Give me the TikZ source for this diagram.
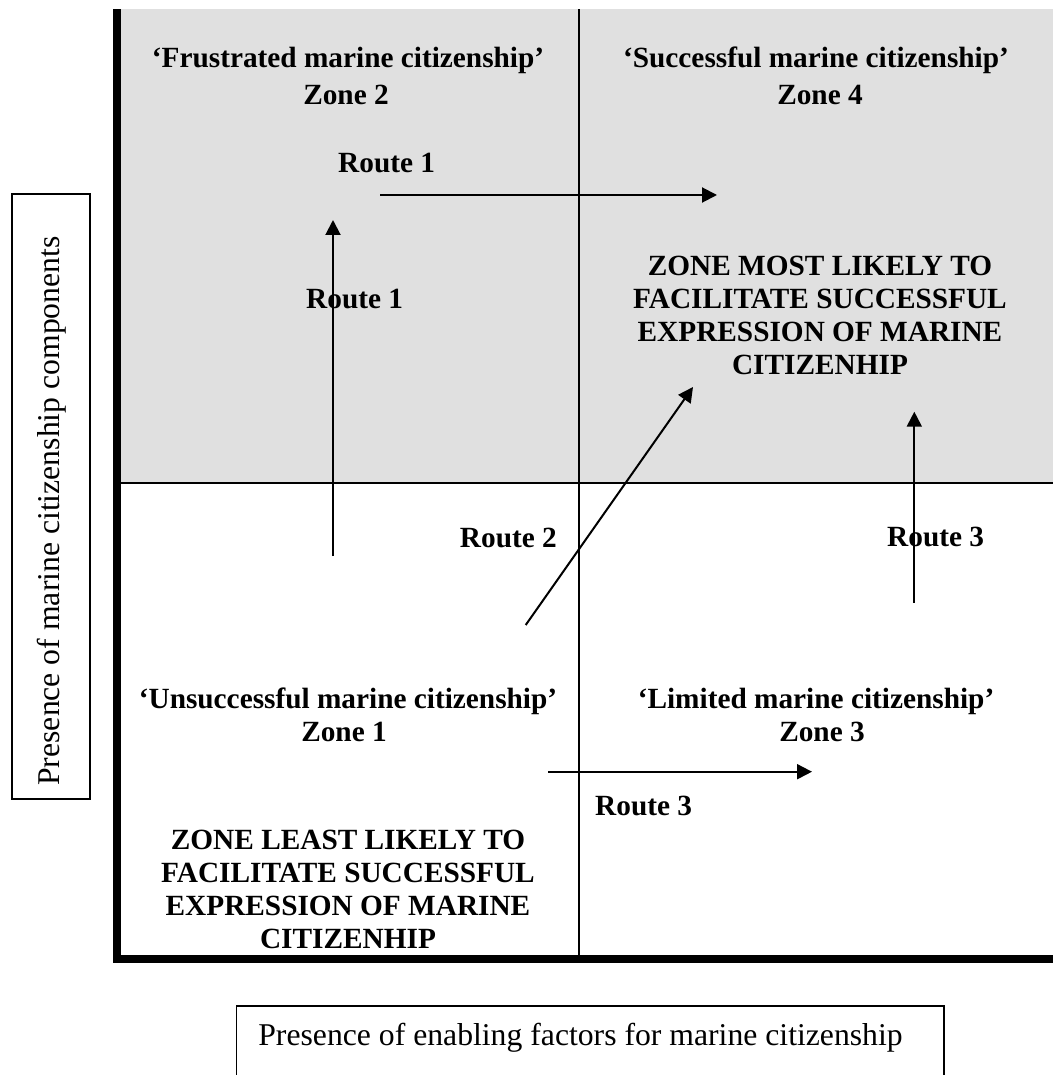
\documentclass[tikz,border=0pt]{standalone}
\usepackage{fontspec}
\setmainfont{Liberation Serif}
\usetikzlibrary{arrows.meta}
\definecolor{zonegrey}{RGB}{224,224,224}
\tikzset{
  bt/.style={font=\fontsize{29.3}{33}\selectfont\bfseries, inner sep=0pt},
  lbl/.style={font=\fontsize{31.7}{36}\selectfont, inner sep=0pt},
  route/.style={line width=2pt, -{Triangle[length=15pt,width=15pt]}},
  divider/.style={line width=2pt},
  frameline/.style={line width=8pt, line join=miter},
  labelbox/.style={draw, line width=1.6pt, inner sep=0pt}
}
\begin{document}
\begin{tikzpicture}[x=1pt,y=-1pt]
\useasboundingbox (0,0) rectangle (1053,1075);
% shaded upper half
\fill[zonegrey] (120.7,9.5) rectangle (1053,482.7);
% dividers
\draw[divider] (579,9.5) -- (579,955);
\draw[divider] (120.7,482.7) -- (1053,482.7);
% axes frame
\draw[frameline] (116.7,9.5) -- (116.7,959) -- (1053,959);

% axis label boxes
\node[labelbox, minimum width=78pt, minimum height=605pt] (ybox) at (51,496.5) {};
\node[lbl, rotate=90] (ylab) at (52,511) {Presence of marine citizenship components};
\draw[line width=1.6pt] (236.5,1085) -- (236.5,1005.7) -- (944,1005.7) -- (944,1085);
\node[lbl, anchor=base] (xlab) at (580.5,1045) {Presence of enabling factors for marine citizenship};

% zone titles
\node[bt, anchor=base] (z2t) at (348,68) {‘Frustrated marine citizenship’};
\node[bt, anchor=base] (z2) at (346,105) {Zone 2};
\node[bt, anchor=base] (z4t) at (816,68) {‘Successful marine citizenship’};
\node[bt, anchor=base] (z4) at (820,105) {Zone 4};
\node[bt, anchor=base] (z1t) at (348,708) {‘Unsuccessful marine citizenship’};
\node[bt, anchor=base] (z1) at (344,741) {Zone 1};
\node[bt, anchor=base] (z3t) at (816,708) {‘Limited marine citizenship’};
\node[bt, anchor=base] (z3) at (822,741) {Zone 3};

% zone descriptions
\node[bt] (most) at (820,318) {\begin{tabular}{@{}c@{}}ZONE MOST LIKELY TO\\FACILITATE SUCCESSFUL\\EXPRESSION OF MARINE\\CITIZENHIP\end{tabular}};
\node[bt] (least) at (348,892) {\begin{tabular}{@{}c@{}}ZONE LEAST LIKELY TO\\FACILITATE SUCCESSFUL\\EXPRESSION OF MARINE\\CITIZENHIP\end{tabular}};

% route labels
\node[bt, anchor=base west] (r1a) at (338,173) {Route 1};
\node[bt, anchor=base west] (r1b) at (306,308) {Route 1};
\node[bt, anchor=base east] (r2) at (557,547) {Route 2};
\node[bt, anchor=base west] (r3a) at (887,546) {Route 3};
\node[bt, anchor=base west] (r3b) at (595,815) {Route 3};

% route arrows
\coordinate (r1hs) at (380,195);
\coordinate (r1he) at (717,195);
\coordinate (r1vs) at (333,556);
\coordinate (r1ve) at (333,220);
\coordinate (r2s) at (525.7,625);
\coordinate (r2e) at (693,387);
\coordinate (r3vs) at (914.3,602.7);
\coordinate (r3ve) at (914.3,411.7);
\coordinate (r3hs) at (548.3,771.7);
\coordinate (r3he) at (812,771.7);
\draw[route] (r1hs) -- (r1he);
\draw[route] (r1vs) -- (r1ve);
\draw[route] (r2s) -- (r2e);
\draw[route] (r3vs) -- (r3ve);
\draw[route] (r3hs) -- (r3he);
\end{tikzpicture}
\end{document}
